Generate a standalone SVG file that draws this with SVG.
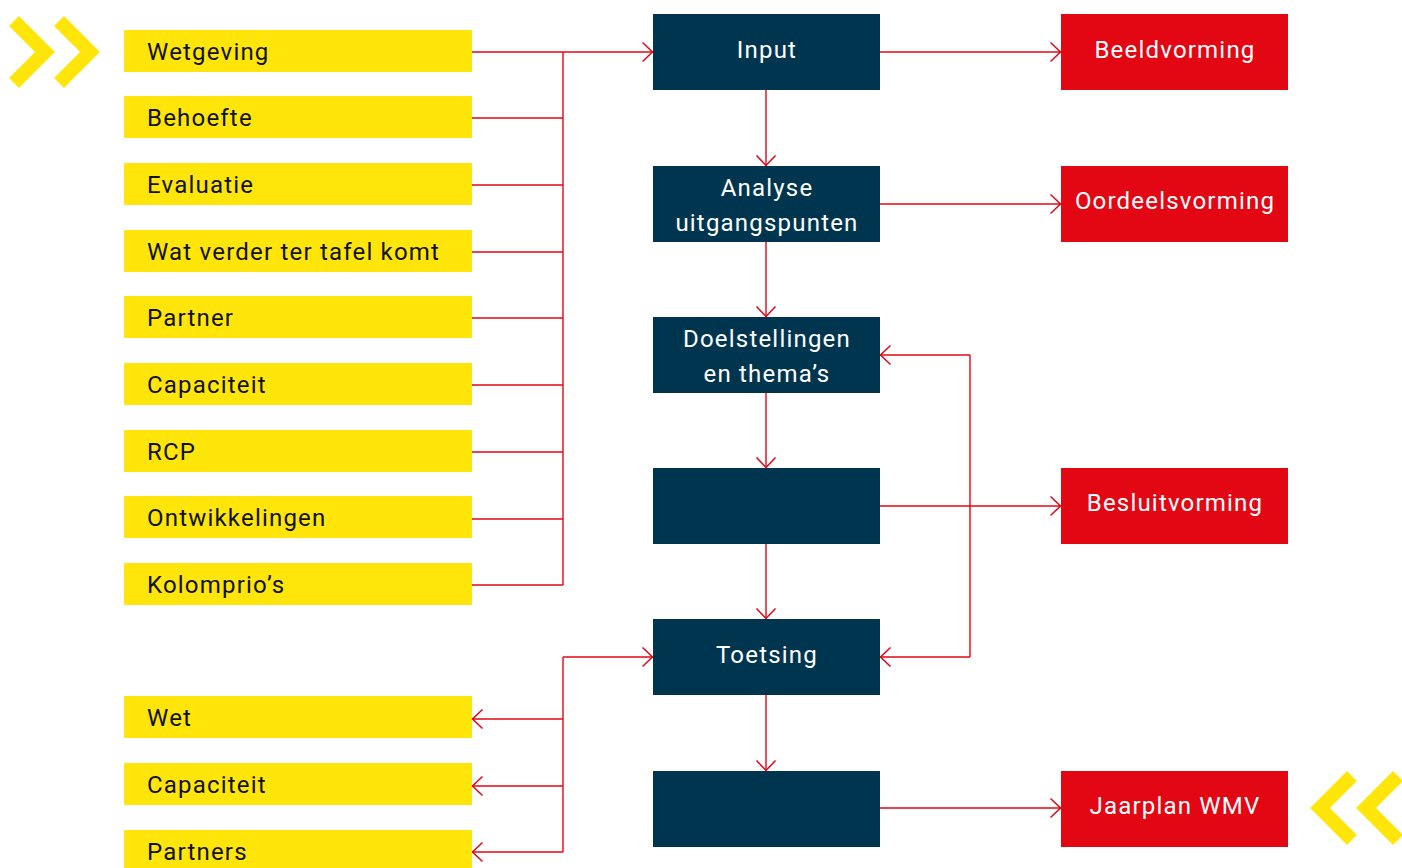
<svg xmlns="http://www.w3.org/2000/svg" width="1402" height="868" viewBox="0 0 1402 868">
<style>
.y{fill:#ffe50a}
.n{fill:#00354f}
.r{fill:#e30613}
.ty{font-family:Roboto,"Liberation Sans",sans-serif;font-size:24px;letter-spacing:1.2px;fill:#111}
.tw{font-family:Roboto,"Liberation Sans",sans-serif;font-size:24px;letter-spacing:1.2px;fill:#fff;text-anchor:middle}
.c{fill:none;stroke:#e30613;stroke-width:1.4}
.ch{fill:none;stroke:#ffe50a;stroke-width:14;stroke-linejoin:miter;stroke-linecap:butt}
</style>
<defs>
<marker id="a" markerUnits="userSpaceOnUse" markerWidth="14" markerHeight="22" viewBox="0 0 14 22" refX="11.5" refY="11" orient="auto">
<path d="M1,1.5 L11,11 L1,20.5" fill="none" stroke="#e30613" stroke-width="1.5"/>
</marker>
</defs>
<rect width="1402" height="868" fill="#fff"/>
<g id="chevrons-left">
<polyline class="ch" points="14,21 45,52 14,83"/>
<polyline class="ch" points="59,21 90,52 59,83"/>
</g>
<g id="chevrons-right">
<polyline class="ch" points="1352,776 1320,808 1352,840"/>
<polyline class="ch" points="1398,776 1366,808 1398,840"/>
</g>
<g id="connectors">
<path class="c" d="M472,52 H653" marker-end="url(#a)"/>
<path class="c" d="M563,52 V585"/>
<path class="c" d="M472,118 H563"/>
<path class="c" d="M472,185 H563"/>
<path class="c" d="M472,252 H563"/>
<path class="c" d="M472,318 H563"/>
<path class="c" d="M472,385 H563"/>
<path class="c" d="M472,452 H563"/>
<path class="c" d="M472,519 H563"/>
<path class="c" d="M472,585 H563"/>
<path class="c" d="M880,52 H1061" marker-end="url(#a)"/>
<path class="c" d="M880,204 H1061" marker-end="url(#a)"/>
<path class="c" d="M880,506 H1061" marker-end="url(#a)"/>
<path class="c" d="M880,808 H1061" marker-end="url(#a)"/>
<path class="c" d="M766,90 V166" marker-end="url(#a)"/>
<path class="c" d="M766,242 V317" marker-end="url(#a)"/>
<path class="c" d="M766,393 V468" marker-end="url(#a)"/>
<path class="c" d="M766,544 V619" marker-end="url(#a)"/>
<path class="c" d="M766,695 V771" marker-end="url(#a)"/>
<path class="c" d="M970,355 V657"/>
<path class="c" d="M970,355 H880" marker-end="url(#a)"/>
<path class="c" d="M970,657 H880" marker-end="url(#a)"/>
<path class="c" d="M563,657 V852"/>
<path class="c" d="M563,657 H653" marker-end="url(#a)"/>
<path class="c" d="M563,719 H472" marker-end="url(#a)"/>
<path class="c" d="M563,786 H472" marker-end="url(#a)"/>
<path class="c" d="M563,852 H472" marker-end="url(#a)"/>
</g>
<g id="wetgeving"><rect class="y" x="124" y="30" width="348" height="42"/><text class="ty" x="147" y="60">Wetgeving</text></g>
<g id="behoefte"><rect class="y" x="124" y="96" width="348" height="42"/><text class="ty" x="147" y="126">Behoefte</text></g>
<g id="evaluatie"><rect class="y" x="124" y="163" width="348" height="42"/><text class="ty" x="147" y="193">Evaluatie</text></g>
<g id="wat-verder"><rect class="y" x="124" y="230" width="348" height="42"/><text class="ty" x="147" y="260">Wat verder ter tafel komt</text></g>
<g id="partner"><rect class="y" x="124" y="296" width="348" height="42"/><text class="ty" x="147" y="326">Partner</text></g>
<g id="capaciteit1"><rect class="y" x="124" y="363" width="348" height="42"/><text class="ty" x="147" y="393">Capaciteit</text></g>
<g id="rcp"><rect class="y" x="124" y="430" width="348" height="42"/><text class="ty" x="147" y="460">RCP</text></g>
<g id="ontwikkelingen"><rect class="y" x="124" y="496" width="348" height="42"/><text class="ty" x="147" y="526">Ontwikkelingen</text></g>
<g id="kolomprios"><rect class="y" x="124" y="563" width="348" height="42"/><text class="ty" x="147" y="593">Kolomprio’s</text></g>
<g id="wet"><rect class="y" x="124" y="696" width="348" height="42"/><text class="ty" x="147" y="726">Wet</text></g>
<g id="capaciteit2"><rect class="y" x="124" y="763" width="348" height="42"/><text class="ty" x="147" y="793">Capaciteit</text></g>
<g id="partners"><rect class="y" x="124" y="830" width="348" height="42"/><text class="ty" x="147" y="860">Partners</text></g>
<g id="input"><rect class="n" x="653" y="14" width="227" height="76"/><text class="tw" x="767" y="58">Input</text></g>
<g id="analyse"><rect class="n" x="653" y="166" width="227" height="76"/><text class="tw" x="767" y="196">Analyse</text><text class="tw" x="767" y="231">uitgangspunten</text></g>
<g id="doelstellingen"><rect class="n" x="653" y="317" width="227" height="76"/><text class="tw" x="767" y="347">Doelstellingen</text><text class="tw" x="767" y="382">en thema’s</text></g>
<g id="blank1"><rect class="n" x="653" y="468" width="227" height="76"/></g>
<g id="toetsing"><rect class="n" x="653" y="619" width="227" height="76"/><text class="tw" x="767" y="663">Toetsing</text></g>
<g id="blank2"><rect class="n" x="653" y="771" width="227" height="76"/></g>
<g id="beeldvorming"><rect class="r" x="1061" y="14" width="227" height="76"/><text class="tw" x="1175" y="58">Beeldvorming</text></g>
<g id="oordeelsvorming"><rect class="r" x="1061" y="166" width="227" height="76"/><text class="tw" x="1175" y="209">Oordeelsvorming</text></g>
<g id="besluitvorming"><rect class="r" x="1061" y="468" width="227" height="76"/><text class="tw" x="1175" y="511">Besluitvorming</text></g>
<g id="jaarplan"><rect class="r" x="1061" y="771" width="227" height="76"/><text class="tw" x="1175" y="814">Jaarplan WMV</text></g>
</svg>
